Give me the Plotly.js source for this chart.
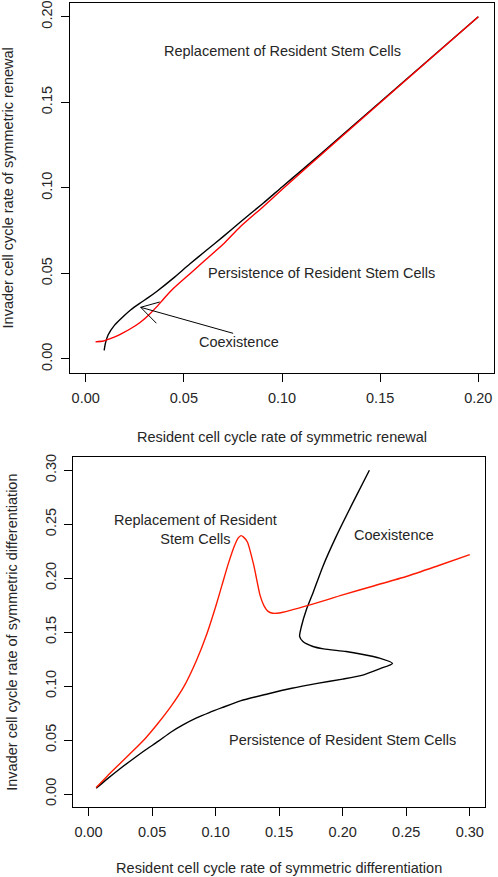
<!DOCTYPE html>
<html>
<head>
<meta charset="utf-8">
<script src="https://cdn.plot.ly/plotly-3.0.1.min.js"></script>
<style>html,body{margin:0;padding:0;background:#fff;}#chart{width:498px;height:877px;}</style>
</head>
<body>
<div id="chart"></div>
<script>
// ---- Top panel: symmetric renewal ----
var topBlackX = [0.0094, 0.0100, 0.0114, 0.0148, 0.0190, 0.0230, 0.0275, 0.0320, 0.0360, 0.0445, 0.0530, 0.0615, 0.0700, 0.0785, 0.0904, 0.1000, 0.1100, 0.1300, 0.1600, 0.2000];
var topBlackY = [0.0050, 0.0090, 0.0140, 0.0199, 0.0247, 0.0288, 0.0325, 0.0360, 0.0393, 0.0471, 0.0555, 0.0635, 0.0715, 0.0798, 0.0910, 0.1005, 0.1102, 0.1301, 0.1601, 0.2000];
var topRedX = [0.0050, 0.0090, 0.0122, 0.0160, 0.0190, 0.0230, 0.0275, 0.0320, 0.0360, 0.0400, 0.0445, 0.0530, 0.0615, 0.0700, 0.0785, 0.0904, 0.1000, 0.1100, 0.1300, 0.1600, 0.2000];
var topRedY = [0.0100, 0.0105, 0.0118, 0.0135, 0.0152, 0.0178, 0.0212, 0.0256, 0.0303, 0.0355, 0.0410, 0.0497, 0.0584, 0.0670, 0.0770, 0.0890, 0.0990, 0.1092, 0.1295, 0.1598, 0.2000];

// ---- Bottom panel: symmetric differentiation ----
var botBlackX = [0.006, 0.015, 0.025, 0.035, 0.045, 0.055, 0.065, 0.075, 0.085, 0.095, 0.105, 0.120, 0.140, 0.160, 0.180, 0.200, 0.215, 0.229, 0.2392, 0.229, 0.215, 0.2027, 0.185, 0.1766, 0.1687, 0.1661, 0.1675, 0.1714, 0.1766, 0.1844, 0.1949, 0.2079, 0.221];
var botBlackY = [0.0053, 0.0143, 0.0237, 0.0325, 0.0410, 0.0490, 0.0575, 0.0645, 0.0705, 0.0755, 0.0800, 0.0865, 0.0925, 0.0980, 0.1025, 0.1065, 0.1100, 0.1160, 0.1210, 0.1259, 0.1295, 0.1320, 0.1345, 0.1367, 0.1413, 0.1460, 0.1552, 0.1707, 0.1862, 0.2109, 0.2387, 0.2697, 0.3000];
var botRedX = [0.006, 0.015, 0.025, 0.035, 0.045, 0.055, 0.065, 0.075, 0.085, 0.093, 0.100, 0.105, 0.110, 0.115, 0.118, 0.120, 0.122, 0.125, 0.130, 0.135, 0.138, 0.141, 0.145, 0.150, 0.175, 0.200, 0.225, 0.250, 0.275, 0.300];
var botRedY = [0.006, 0.017, 0.0285, 0.040, 0.052, 0.066, 0.0814, 0.0995, 0.124, 0.148, 0.1735, 0.1935, 0.2135, 0.2305, 0.2375, 0.2394, 0.238, 0.2335, 0.212, 0.184, 0.1745, 0.1695, 0.1675, 0.1677, 0.1755, 0.1845, 0.1930, 0.2015, 0.2115, 0.2218];

// ---- Text labels ----
var topLabels = ["Replacement of Resident Stem Cells", "Persistence of Resident Stem Cells", "Coexistence"];
var topLabelX = [0.100, 0.120, 0.078];
var topLabelY = [0.180, 0.050, 0.010];
var botLabels = ["Replacement of Resident<br>Stem Cells", "Coexistence", "Persistence of Resident Stem Cells"];
var botLabelX = [0.084, 0.240, 0.200];
var botLabelY = [0.245, 0.240, 0.050];

// arrow (tail -> tip) and head wings, top panel
var arrowTail = [0.0751, 0.0150];
var arrowTip = [0.0280, 0.0302];
var arrowWing1 = [0.0360, 0.0209];
var arrowWing2 = [0.0377, 0.0333];

var tickVals1 = [0, 0.05, 0.10, 0.15, 0.20];
var tickText1 = ["0.00", "0.05", "0.10", "0.15", "0.20"];
var tickVals2 = [0, 0.05, 0.10, 0.15, 0.20, 0.25, 0.30];
var tickText2 = ["0.00", "0.05", "0.10", "0.15", "0.20", "0.25", "0.30"];

var FONT = "Liberation Sans, Arial, Helvetica, sans-serif";
var TXT = "#262626";
var FS = 14.5;

function line(x, y, color, xa, ya) {
  return {x: x, y: y, type: "scatter", mode: "lines", xaxis: xa, yaxis: ya,
          line: {color: color, width: 1.4, shape: "spline", smoothing: 0.6},
          hoverinfo: "skip", showlegend: false};
}

var data = [
  line(topBlackX, topBlackY, "#000000", "x", "y"),
  line(topRedX, topRedY, "#ff0000", "x", "y"),
  line(botBlackX, botBlackY, "#000000", "x2", "y2"),
  line(botRedX, botRedY, "#ff1a00", "x2", "y2")
];

function axis(extra) {
  var a = {
    showline: true, mirror: true, linecolor: "#000", linewidth: 1,
    ticks: "outside", ticklen: 8, tickcolor: "#000", tickwidth: 1,
    showgrid: false, zeroline: false, automargin: false,
    tickfont: {family: FONT, size: FS, color: TXT}
  };
  for (var k in extra) a[k] = extra[k];
  return a;
}

var annotations = [];
topLabels.forEach(function (t, i) {
  annotations.push({text: t, x: topLabelX[i], y: topLabelY[i], xref: "x", yref: "y",
    showarrow: false, font: {family: FONT, size: FS, color: TXT}});
});
botLabels.forEach(function (t, i) {
  annotations.push({text: t, x: botLabelX[i], y: botLabelY[i], xref: "x2", yref: "y2",
    showarrow: false, align: "center", font: {family: FONT, size: FS, color: TXT}});
});

var shapes = [{
  type: "path", xref: "x", yref: "y",
  path: "M" + arrowTail[0] + "," + arrowTail[1] + " L" + arrowTip[0] + "," + arrowTip[1] +
        " M" + arrowWing1[0] + "," + arrowWing1[1] + " L" + arrowTip[0] + "," + arrowTip[1] +
        " L" + arrowWing2[0] + "," + arrowWing2[1],
  line: {color: "#000", width: 1}
}];

var layout = {
  width: 498, height: 877,
  margin: {l: 70, r: 4, t: 3, b: 70},
  paper_bgcolor: "#fff", plot_bgcolor: "#fff",
  showlegend: false,
  font: {family: FONT, size: FS, color: TXT},
  xaxis: axis({domain: [0, 1], range: [-0.008, 0.208], tickvals: tickVals1, ticktext: tickText1, anchor: "y",
    ticklabelstandoff: 4,
    title: {text: "Resident cell cycle rate of symmetric renewal", font: {family: FONT, size: FS, color: TXT}, standoff: 26}}),
  yaxis: axis({domain: [0.5402, 1], range: [-0.008, 0.208], tickvals: tickVals1, ticktext: tickText1, anchor: "x", tickangle: -90,
    ticklabelstandoff: 3,
    title: {text: "Invader cell cycle rate of symmetric renewal", font: {family: FONT, size: FS, color: TXT}, standoff: 26}}),
  xaxis2: axis({domain: [0.0078, 0.9788], range: [-0.012, 0.312], tickvals: tickVals2, ticktext: tickText2, anchor: "y2",
    ticklabelstandoff: 4,
    title: {text: "Resident cell cycle rate of symmetric differentiation", font: {family: FONT, size: FS, color: TXT}, standoff: 23}}),
  yaxis2: axis({domain: [0, 0.435], range: [-0.012, 0.312], tickvals: tickVals2, ticktext: tickText2, anchor: "x2", tickangle: -90,
    ticklabelstandoff: 3,
    title: {text: "Invader cell cycle rate of symmetric differentiation", font: {family: FONT, size: FS, color: TXT}, standoff: 21}}),
  annotations: annotations,
  shapes: shapes
};

Plotly.newPlot("chart", data, layout, {staticPlot: true, displayModeBar: false});
</script>
</body>
</html>
